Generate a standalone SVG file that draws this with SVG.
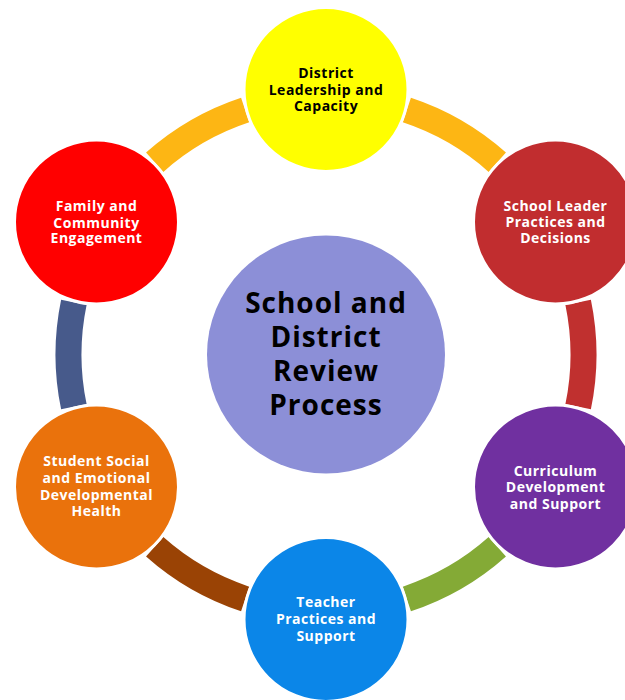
<svg xmlns="http://www.w3.org/2000/svg" width="625" height="700" viewBox="0 0 625 700">
<style>
.arc{fill:none;stroke-width:26;stroke-linecap:butt}
.node{stroke:#fff;stroke-width:3}
.t{font-family:"Open Sans","Lato","Liberation Sans",sans-serif;font-weight:bold;font-size:14px;letter-spacing:0.5px;text-anchor:middle}
.w{fill:#fff}
.k{fill:#000}
.big{font-size:28px;letter-spacing:1px}
</style>
<rect width="625" height="700" fill="#fff"/>
<g id="connectors">
<path class="arc" stroke="#FDB614" d="M406.85,110.03 A257.5,257.5 0 0 1 497.3,162.2"/>
<path class="arc" stroke="#C0302F" d="M578.15,302.28 A257.5,257.5 0 0 1 578.15,406.72"/>
<path class="arc" stroke="#84AA36" d="M497.3,546.8 A257.5,257.5 0 0 1 406.85,598.97"/>
<path class="arc" stroke="#9A4305" d="M245.15,598.97 A257.5,257.5 0 0 1 154.7,546.8"/>
<path class="arc" stroke="#475A8B" d="M73.85,406.72 A257.5,257.5 0 0 1 73.85,302.28"/>
<path class="arc" stroke="#FDB614" d="M154.7,162.2 A257.5,257.5 0 0 1 245.15,110.03"/>
</g>
<g id="center">
<circle cx="326" cy="354.5" r="119" fill="#8C8FD7"/>
<text class="t k big" x="326" y="313">School and</text>
<text class="t k big" x="326" y="347">District</text>
<text class="t k big" x="326" y="381">Review</text>
<text class="t k big" x="326" y="415">Process</text>
</g>
<g id="district">
<circle class="node" cx="326" cy="89.5" r="82" fill="#FFFF00"/>
<text class="t k" x="326" y="78">District</text>
<text class="t k" x="326" y="95">Leadership and</text>
<text class="t k" x="326" y="111">Capacity</text>
</g>
<g id="schoolleader">
<circle class="node" cx="555.5" cy="222" r="82" fill="#C12D2F"/>
<text class="t w" x="555.5" y="211">School Leader</text>
<text class="t w" x="555.5" y="227">Practices and</text>
<text class="t w" x="555.5" y="243">Decisions</text>
</g>
<g id="curriculum">
<circle class="node" cx="555.5" cy="487" r="82" fill="#7030A0"/>
<text class="t w" x="555.5" y="476">Curriculum</text>
<text class="t w" x="555.5" y="492">Development</text>
<text class="t w" x="555.5" y="509">and Support</text>
</g>
<g id="teacher">
<circle class="node" cx="326" cy="619.5" r="82" fill="#0B86E8"/>
<text class="t w" x="326" y="607">Teacher</text>
<text class="t w" x="326" y="624">Practices and</text>
<text class="t w" x="326" y="641">Support</text>
</g>
<g id="student">
<circle class="node" cx="96.5" cy="487" r="82" fill="#EA720C"/>
<text class="t w" x="96.5" y="466">Student Social</text>
<text class="t w" x="96.5" y="483">and Emotional</text>
<text class="t w" x="96.5" y="500">Developmental</text>
<text class="t w" x="96.5" y="516">Health</text>
</g>
<g id="family">
<circle class="node" cx="96.5" cy="222" r="82" fill="#FF0000"/>
<text class="t w" x="96.5" y="211">Family and</text>
<text class="t w" x="96.5" y="228">Community</text>
<text class="t w" x="96.5" y="243">Engagement</text>
</g>
</svg>
